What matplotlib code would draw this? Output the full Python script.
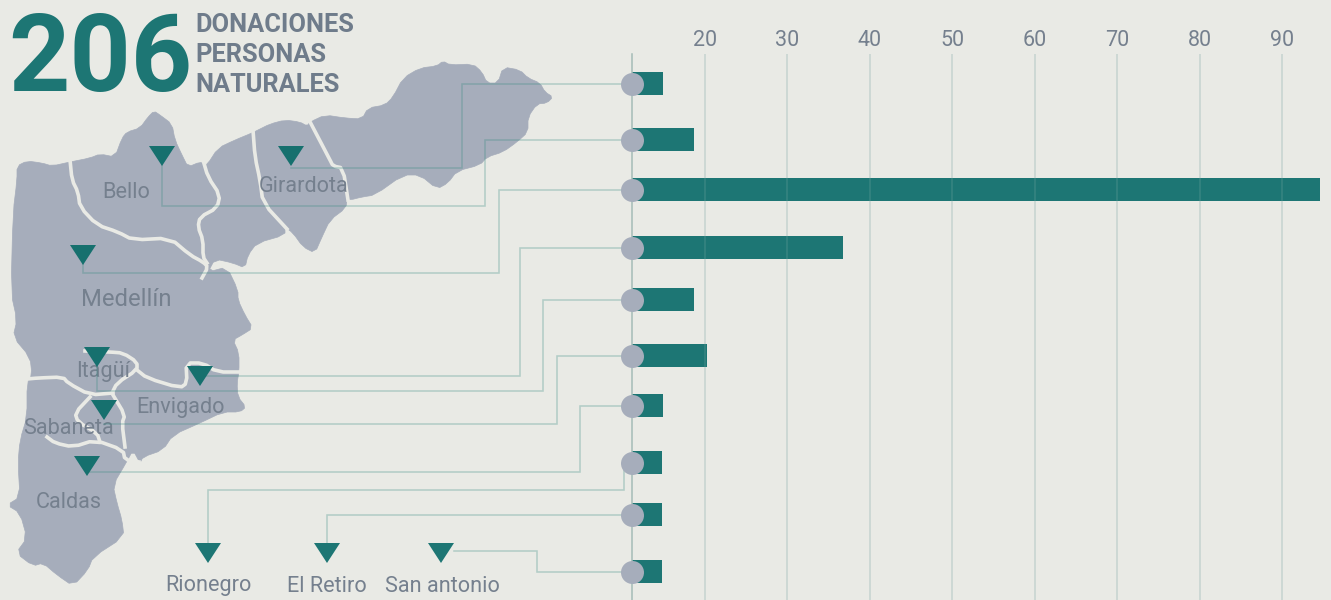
#!/usr/bin/env python
import matplotlib
matplotlib.use('Agg')
import matplotlib.pyplot as plt
from matplotlib.patches import Polygon

plt.rcParams['font.family'] = ['Roboto', 'DejaVu Sans']

# chart data
municipios = ['Girardota', 'Bello', 'Medellín', 'Envigado', 'Itagüí', 'Sabaneta', 'Caldas', 'Rionegro', 'El Retiro', 'San antonio']
donaciones = [14.9, 18.7, 94.6, 36.75, 18.7, 20.25, 14.9, 14.8, 14.8, 14.8]
tick_vals = [20, 30, 40, 50, 60, 70, 80, 90]
total_label = '206'
title_lines = ['DONACIONES', 'PERSONAS', 'NATURALES']

BG = '#e9eae5'
TEAL = '#1d7674'
TEAL_MAP = '#16706e'
MAP = '#a6adbb'
GREY = '#75808e'
LINE = '#358a81'

# rows are unevenly spaced in the original, pixel y of each bar
bar_y = [83.5, 139.5, 189.5, 247.5, 299.5, 355.5, 405.5, 462.5, 514.5, 571.5]
axis_val = 11.15


def soften(pts, closed=False):
    # one pass of corner cutting so the hand traced map is less angular
    out = [] if closed else [pts[0]]
    n = len(pts)
    for i in range(n if closed else n - 1):
        a, b = pts[i], pts[(i + 1) % n]
        out.append((0.75*a[0] + 0.25*b[0], 0.75*a[1] + 0.25*b[1]))
        out.append((0.25*a[0] + 0.75*b[0], 0.25*a[1] + 0.75*b[1]))
    if not closed:
        out.append(pts[-1])
    return out


fig = plt.figure(figsize=(13.31, 6), dpi=100, facecolor=BG)
ax = fig.add_axes([0, 0, 1, 1])
ax.set_xlim(0, 1331)
ax.set_ylim(600, 0)
ax.axis('off')

# map outline, traced by hand
outline = [(17,166),(27,161),(42,163),(52,166),(70,162),(90,158),(100,154),(115,157),(122,138),(127,132),(140,128),
           (148,117),(154,111),(160,115),(172,124),(175,140),(182,155),(188,167),(200,162),(204,164),(207,165),
           (218,148),(235,140),(252,133),(258,130),(270,124),(285,120),(300,122),(307,126),(310,122),(325,115),
           (345,118),(362,119),(368,108),(385,105),(393,97),(403,78),(420,68),(437,66),(443,61),(450,65),(473,64),
           (482,72),(487,83),(498,83),(503,67),(520,70),(528,78),(540,83),(545,92),(553,97),(547,103),(537,104),
           (528,117),(528,132),(517,142),(503,152),(487,157),(480,165),(457,171),(448,183),(437,189),(420,175),
           (403,175),(375,195),(362,197),(350,200),(347,198),(346,208),(330,220),(322,237),(315,253),(303,247),
           (293,233),(285,227),(285,235),(257,243),(248,255),(245,268),(233,263),(215,259),(208,272),(227,267),
           (238,290),(238,300),(245,315),(253,328),(242,335),(233,340),(239,353),(239,372),(237,383),(238,397),
           (246,407),(240,412),(223,412),(200,423),(173,435),(163,450),(143,457),(140,463),(133,450),(126,463),
           (113,485),(117,503),(122,520),(124,537),(93,557),(88,570),(73,586),(57,575),(43,563),(33,566),(16,553),
           (27,538),(20,513),(7,505),(20,497),(18,463),(20,440),(27,417),(27,383),(32,375),(30,357),(13,337),
           (17,320),(11,293),(13,213),(17,180)]
ax.add_patch(Polygon(soften(outline, closed=True), closed=True, fc=MAP, ec=MAP, lw=0.5, zorder=1))

# borders between municipios
borders = [
    [(70,160),(72,180),(78,192),(80,207),(97,225),(118,232),(133,240),(170,238),(190,255),(203,262),(208,267),(202,278)],
    [(203,160),(208,177),(220,195),(217,208),(200,217),(198,227),(203,240),(203,257),(207,263)],
    [(253,130),(255,157),(260,180),(263,203),(287,229)],
    [(308,118),(330,160),(333,166),(343,168),(348,200)],
    [(27,379),(38,378),(63,377),(68,383),(90,395),(113,393)],
    [(85,351),(110,352),(123,353),(137,362),(137,370),(117,383),(112,393)],
    [(137,370),(147,378),(180,388),(187,383),(186,363),(203,363),(217,372),(242,372)],
    [(90,397),(75,413),(78,422),(97,433),(100,442)],
    [(47,437),(55,443),(73,447),(95,440),(123,450),(125,460),(139,462)],
    [(113,395),(125,415),(122,423),(125,447)],
]
for b in borders:
    b = soften(b)
    ax.plot([p[0] for p in b], [p[1] for p in b], color=BG, lw=2.6, solid_joinstyle='round', zorder=2)

# map labels
labels = [('Bello', 126, 193, 15.6), ('Girardota', 303.5, 186, 15.6), ('Medellín', 126, 300, 17.2), ('Itagüí', 103, 371, 15.6),
          ('Envigado', 180, 408, 15.6), ('Sabaneta', 68, 428, 15.6), ('Caldas', 69, 503, 15.6), ('Rionegro', 208, 586, 15.6),
          ('El Retiro', 327, 586, 15.6), ('San antonio', 442, 586, 15.6)]
for name, x, y, size in labels:
    ax.text(x, y, name, color=GREY, fontsize=size, ha='center', va='center', zorder=3)

# connectors from each marker to its bar
connectors = [
    [(291,168),(462,168),(462,bar_y[0]),(632,bar_y[0])],
    [(162,155),(162,206),(485,206),(485,bar_y[1]),(632,bar_y[1])],
    [(83,255),(83,273),(499,273),(499,bar_y[2]),(632,bar_y[2])],
    [(200,376),(520,376),(520,bar_y[3]),(632,bar_y[3])],
    [(97,357),(97,391),(543,391),(543,bar_y[4]),(632,bar_y[4])],
    [(104,424),(557,424),(557,bar_y[5]),(632,bar_y[5])],
    [(87,472),(580,472),(580,bar_y[6]),(632,bar_y[6])],
    [(208,552),(208,490),(624,490),(624,bar_y[7])],
    [(327,552),(327,bar_y[8]),(632,bar_y[8])],
    [(454,551),(537,551),(537,bar_y[9]),(632,bar_y[9])],
]
for c in connectors:
    ax.plot([p[0] for p in c], [p[1] for p in c], color=LINE, lw=1.15, alpha=0.3, solid_joinstyle='miter', zorder=4)

# triangle markers
tri_x = [291, 162, 83, 97, 200, 104, 87, 208, 327, 441]
tri_top = [146, 146, 245, 347, 366, 400, 456, 543, 543, 543]
for i, (x, y) in enumerate(zip(tri_x, tri_top)):
    col = TEAL if i > 6 else TEAL_MAP
    ax.add_patch(Polygon([(x-13, y), (x+13, y), (x, y+20)], closed=True, fc=col, ec='none', zorder=5))

# header
ax.text(100, 51, total_label, color=TEAL, fontsize=77, fontweight='bold', ha='center', va='center_baseline', zorder=6)
for line, y in zip(title_lines, [24.5, 54.5, 84.5]):
    ax.text(195.5, y, line, color='#6f7c8b', fontsize=18.3, fontweight='bold', ha='left', va='center', zorder=6)

# bars on their own axes, x in donation units, y in pixel rows
ax2 = fig.add_axes([632/1331, 0, (1331-632)/1331, (600-54)/600])
ax2.patch.set_alpha(0)
ax2.set_xlim(axis_val, 95.95)
ax2.set_ylim(600, 54)
ax2.vlines(tick_vals, 54, 600, color='#c8d5d1', lw=1.15, zorder=1)
ax2.barh(bar_y, [d - axis_val for d in donaciones], left=axis_val, height=23, color=TEAL, zorder=2)
ax2.vlines(tick_vals, 54, 600, color='#c8d5d1', lw=1.15, alpha=0.15, zorder=3)
ax2.axvline(axis_val, color='#a5bcb7', lw=1.1, clip_on=False, zorder=3)
ax2.scatter([axis_val]*len(bar_y), bar_y, s=274, color=MAP, linewidths=0, clip_on=False, zorder=4)
ax2.xaxis.tick_top()
ax2.set_xticks(tick_vals)
ax2.tick_params(axis='x', length=0, pad=2, labelsize=15.5, labelcolor=GREY)
ax2.set_yticks([])
for s in ax2.spines.values():
    s.set_visible(False)

fig.savefig('out.png', dpi=100, facecolor=BG)
